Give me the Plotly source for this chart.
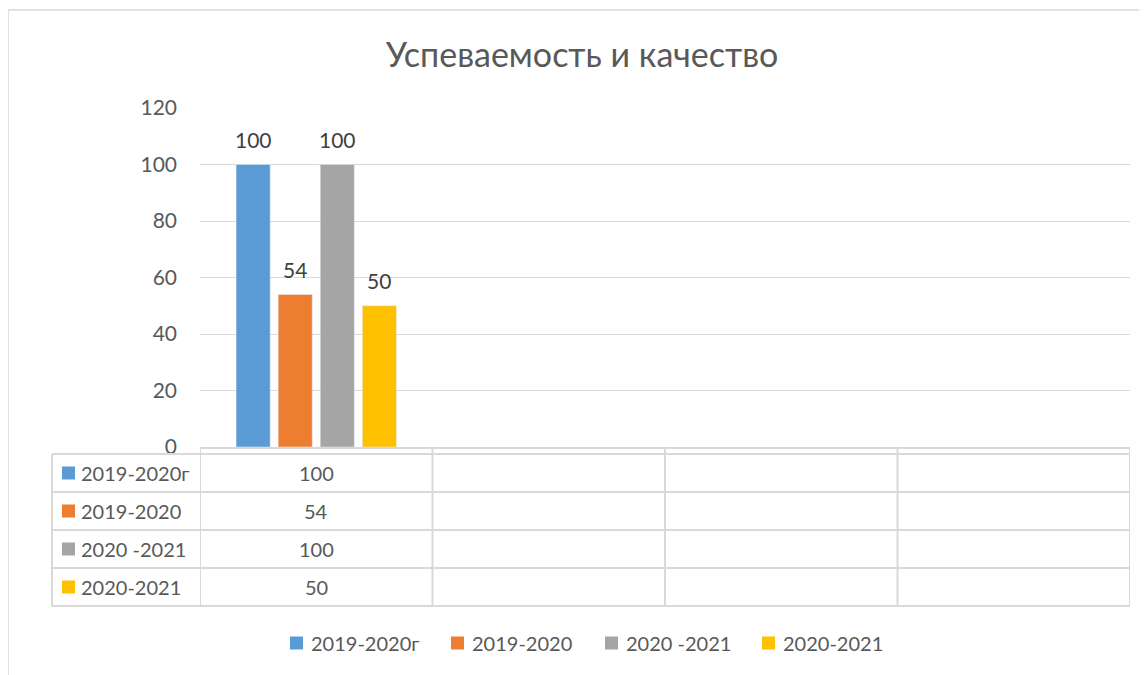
import plotly.graph_objects as go

title = "Успеваемость и качество"
categories = ["К1", "К2", "К3", "К4"]
series_names = ["2019-2020г", "2019-2020", "2020 -2021", "2020-2021"]
series_values = [
    [100, None, None, None],
    [54, None, None, None],
    [100, None, None, None],
    [50, None, None, None],
]
colors = ["#5B9BD5", "#ED7D31", "#A5A5A5", "#FFC000"]
y_ticks = [0, 20, 40, 60, 80, 100, 120]

FONT = "Lato, Carlito, Calibri, sans-serif"
TXT = "#595959"
LINE = "#D9D9D9"

W, H = 1147, 675
OFF = 8  # page body margin
# plot area in page pixels: x 200..1130, y 108..447
ML = 200 - OFF
MT = 108 - OFF
PW = 1130 - 200
PH = 447 - 108
MR = W - ML - PW
MB = H - MT - PH
BARGAP, GROUPGAP = 0.276, 0.19


def px_y(py):
    return (447 - py) / PH


def px_x(px):
    return (px - 200) / PW


fig = go.Figure()
for name, vals, col in zip(series_names, series_values, colors):
    fig.add_trace(go.Bar(
        x=categories, y=vals, name=name, marker_color=col,
        hoverinfo="skip", showlegend=False,
    ))

shapes = []
annotations = []

# data labels above bars
slot_px = PW / len(categories) * (1 - BARGAP) / len(series_names)
for i, vals in enumerate(series_values):
    dx = (i - (len(series_names) - 1) / 2) * slot_px
    for j, v in enumerate(vals):
        if v is not None:
            annotations.append(dict(xref="x", yref="y", x=categories[j], y=v, text=str(v),
                                    xshift=dx, yshift=25, showarrow=False,
                                    xanchor="center", yanchor="middle",
                                    font=dict(family=FONT, size=21, color="#404040")))

# outer chart border
shapes.append(dict(type="rect", xref="paper", yref="paper",
                   x0=px_x(8), x1=px_x(1170), y0=px_y(700), y1=px_y(10),
                   line=dict(color=LINE, width=1.5), fillcolor="rgba(0,0,0,0)", layer="below"))

# data table
row_top = px_y(454)
row_h = 38 / PH
nrows = len(series_names)
table_left = px_x(52)
table_bottom = row_top - nrows * row_h
for i in range(nrows + 1):
    yy = row_top - i * row_h
    shapes.append(dict(type="line", xref="paper", yref="paper", x0=table_left, x1=1,
                       y0=yy, y1=yy, line=dict(color=LINE, width=2)))
shapes.append(dict(type="line", xref="paper", yref="paper", x0=table_left, x1=table_left,
                   y0=row_top, y1=table_bottom, line=dict(color=LINE, width=2)))
for j in range(len(categories) + 1):
    shapes.append(dict(type="line", xref="x", yref="paper", x0=j - 0.5, x1=j - 0.5,
                       y0=0, y1=table_bottom, line=dict(color=LINE, width=2)))

for i, (name, vals, col) in enumerate(zip(series_names, series_values, colors)):
    yc = row_top - (i + 0.5) * row_h
    shapes.append(dict(type="rect", xref="paper", yref="paper",
                       x0=px_x(62), x1=px_x(75), y0=yc - 6.5 / PH, y1=yc + 6.5 / PH,
                       fillcolor=col, line=dict(width=0)))
    annotations.append(dict(xref="paper", yref="paper", x=px_x(79), y=yc, text=name,
                            xanchor="left", yanchor="middle", showarrow=False,
                            font=dict(family=FONT, size=20, color=TXT)))
    for j, v in enumerate(vals):
        if v is not None:
            annotations.append(dict(xref="x", yref="paper", x=categories[j], y=yc, text=str(v),
                                    xanchor="center", yanchor="middle", showarrow=False,
                                    font=dict(family=FONT, size=20, color=TXT)))

# bottom legend (drawn manually)
legend_left_px = [290, 451, 605, 762]
ly = px_y(643)
for name, col, lx in zip(series_names, colors, legend_left_px):
    shapes.append(dict(type="rect", xref="paper", yref="paper",
                       x0=px_x(lx), x1=px_x(lx + 13), y0=ly - 6.5 / PH, y1=ly + 6.5 / PH,
                       fillcolor=col, line=dict(width=0)))
    annotations.append(dict(xref="paper", yref="paper", x=px_x(lx + 19), y=ly, text=name,
                            xanchor="left", yanchor="middle", showarrow=False,
                            font=dict(family=FONT, size=20, color=TXT)))

fig.update_layout(
    width=W, height=H,
    margin=dict(l=ML, r=MR, t=MT, b=MB),
    paper_bgcolor="white", plot_bgcolor="white",
    title=dict(text=title, x=(582 - OFF) / W, xanchor="center", y=1 - (55 - OFF) / H,
               yanchor="middle", font=dict(family=FONT, size=34, color=TXT)),
    barmode="group", bargap=BARGAP, bargroupgap=GROUPGAP,
    xaxis=dict(showticklabels=False, showgrid=False, showline=True, linecolor=LINE,
               linewidth=1.5, range=[-0.5, len(categories) - 0.5], zeroline=False,
               fixedrange=True),
    yaxis=dict(range=[0, 120], tickvals=y_ticks, gridcolor=LINE, gridwidth=1.3,
               zeroline=False, showline=False, ticks="",
               tickfont=dict(family=FONT, size=21, color=TXT), ticklabelstandoff=22),
    shapes=shapes, annotations=annotations,
    showlegend=False,
)
fig.write_html("out.html")
